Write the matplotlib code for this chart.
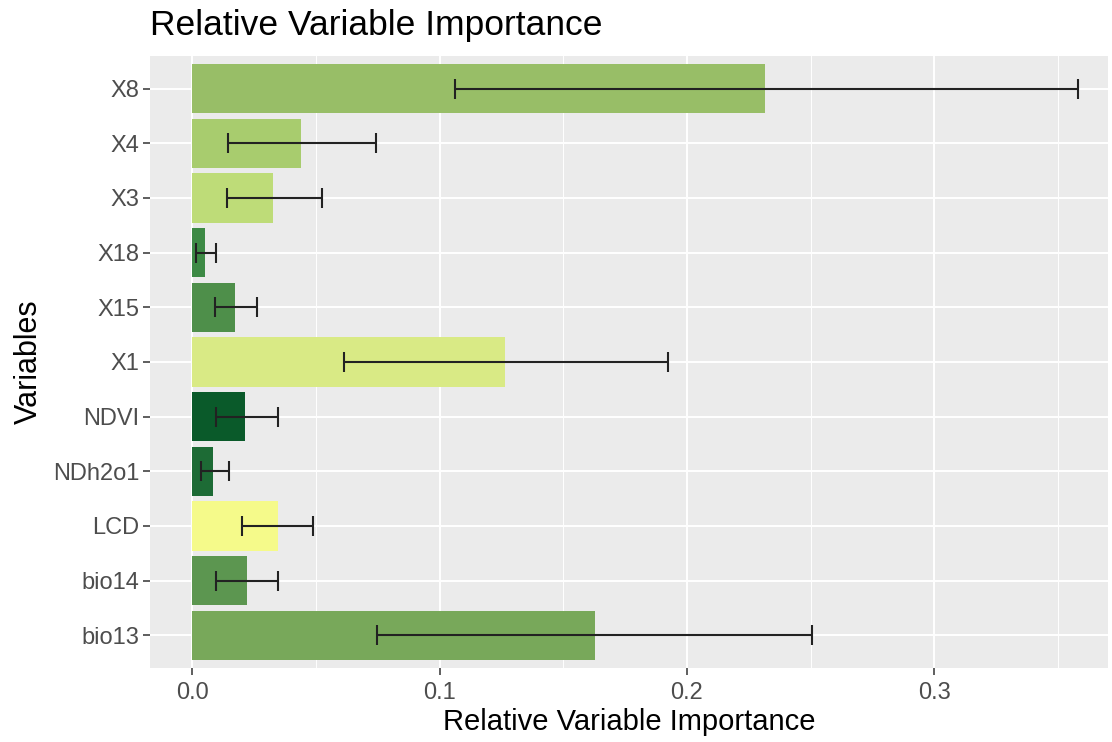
import numpy as np
import matplotlib
matplotlib.use("Agg")
import matplotlib.pyplot as plt
from matplotlib.ticker import MultipleLocator

plt.rcParams['font.family'] = ['Liberation Sans', 'DejaVu Sans']

# variable importance (mean) with lower / upper bounds
variables = ['bio13', 'bio14', 'LCD', 'NDh2o1', 'NDVI', 'X1', 'X15', 'X18', 'X3', 'X4', 'X8']
importance = [0.1628, 0.0222, 0.0347, 0.0085, 0.0214, 0.1265, 0.0174, 0.0053, 0.0327, 0.0440, 0.2315]
lower = [0.0747, 0.0097, 0.0202, 0.0036, 0.0097, 0.0614, 0.0093, 0.0016, 0.0141, 0.0145, 0.1063]
upper = [0.2505, 0.0347, 0.0489, 0.0150, 0.0347, 0.1923, 0.0263, 0.0097, 0.0525, 0.0743, 0.3580]
bar_colors = ['#78A85A', '#5C9650', '#F5FA8A', '#1D6B35', '#0A5A2A', '#D9EA85',
              '#4E8F4A', '#3D8A45', '#BEDC78', '#A8CC6E', '#98BE67']

fig = plt.figure(figsize=(11.12, 7.42), dpi=100)
ax = fig.add_axes([0.135, 0.0997, 0.861, 0.825])
ax.set_facecolor('#EBEBEB')

y = np.arange(len(variables))
ax.barh(y, importance, height=0.9, color=bar_colors, zorder=2)
imp = np.array(importance)
xerr = [imp - np.array(lower), np.array(upper) - imp]
ax.errorbar(importance, y, xerr=xerr, fmt='none', ecolor='#222222',
            elinewidth=1.5, capsize=7.2, capthick=1.5, zorder=3)

ax.set_xlim(-0.017, 0.370)
ax.set_ylim(-0.6, len(variables) - 0.4)
ax.xaxis.set_major_locator(MultipleLocator(0.1))
ax.xaxis.set_minor_locator(MultipleLocator(0.05))
ax.set_yticks(y)
ax.set_yticklabels(variables)
ax.set_xticks([0.0, 0.1, 0.2, 0.3])
ax.set_xticklabels(['0.0', '0.1', '0.2', '0.3'])

ax.grid(which='major', color='white', linewidth=1.4, zorder=0)
ax.grid(which='minor', axis='x', color='white', linewidth=0.7, zorder=0)
ax.set_axisbelow(True)
for s in ax.spines.values():
    s.set_visible(False)

ax.tick_params(axis='both', which='major', length=5, width=1.1, color='#333333',
               labelcolor='#4D4D4D', labelsize=17)
ax.tick_params(axis='x', which='minor', length=0)
ax.tick_params(axis='y', pad=3)
ax.tick_params(axis='x', pad=5)

ax.set_xlabel('Relative Variable Importance', fontsize=21, color='black', labelpad=3)
ax.set_ylabel('Variables', fontsize=22, color='black', labelpad=6)
fig.text(0.135, 0.965, 'Relative Variable Importance', fontsize=25.5, color='black',
         ha='left', va='center')

fig.savefig('out.png', dpi=100, facecolor='white')
